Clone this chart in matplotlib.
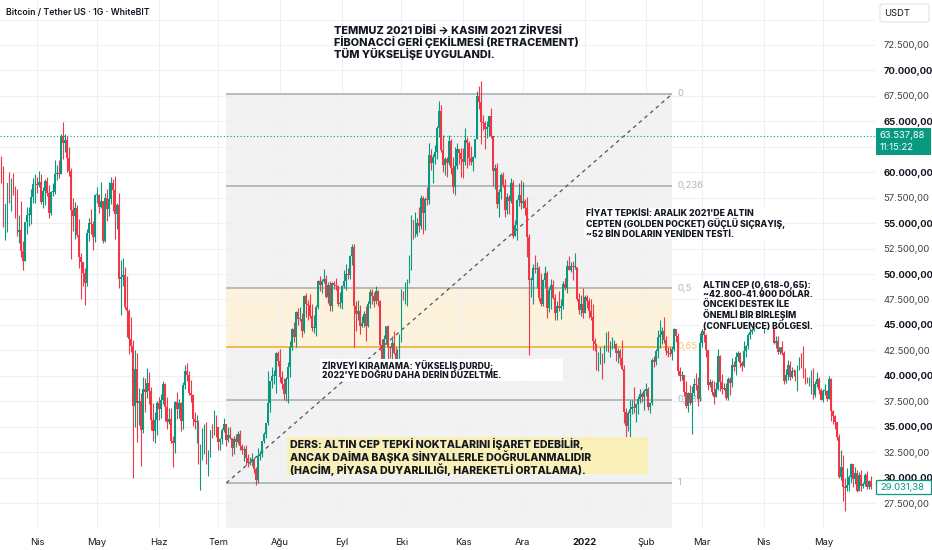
import matplotlib
matplotlib.use('Agg')
import matplotlib.pyplot as plt
import matplotlib.dates as mdates
from matplotlib.patches import Rectangle, FancyBboxPatch
from matplotlib.transforms import offset_copy
import numpy as np
import pandas as pd

plt.rcParams['font.family'] = ['Inter', 'DejaVu Sans']

#                               DATA  (BTC/USDT daily, thousands of USDT)
first_day = '2021-03-13'
first_open = 57.2
close_k = [
    61.2, 59.0, 55.6, 56.9, 58.9, 57.6, 58.3, 58.1, 57.4, 54.1, 54.3, 52.3, 51.3, 55.1, 55.8, 55.8, 57.6, 58.8, 58.8,
    58.7, 59.0, 57.1, 58.2, 59.1, 58.0, 56.0, 58.1, 58.1, 59.8, 59.9, 59.8, 63.6, 62.9, 63.2, 61.4, 60.1, 56.3, 55.7, 56.5, 53.8, 51.7, 51.2, 50.1, 49.1, 54.0, 55.0, 54.9, 53.6, 57.8,
    57.8, 56.6, 57.2, 53.2, 57.5, 56.4, 57.4, 58.9, 58.3, 55.9, 56.8, 49.5, 49.7, 49.9, 46.8, 46.4, 43.6, 42.9, 37.0, 40.7, 37.3, 37.5, 34.7, 38.7, 38.4, 39.3, 38.5, 35.7, 34.6, 35.7, 37.3,
    36.7, 37.6, 39.2, 36.9, 35.5, 35.8, 33.6, 33.4, 37.4, 36.7, 37.3, 35.6, 39.1, 40.5, 40.1, 38.3, 38.1, 35.8, 35.5, 35.6, 31.6, 32.5, 33.7, 34.7, 31.6, 32.2, 34.7, 34.5, 35.9, 35.0,
    33.5, 33.8, 34.7, 35.3, 33.7, 34.2, 33.9, 32.9, 33.8, 33.5, 34.3, 33.1, 32.7, 32.8, 31.9, 31.4, 31.5, 31.8, 30.8, 29.8, 32.1, 32.3, 33.6, 34.3, 35.4, 37.3, 39.5, 40.0, 40.0, 42.2, 41.5,
    39.9, 39.2, 38.2, 39.7, 40.9, 42.8, 44.6, 43.8, 46.3, 45.6, 45.6, 44.4, 47.8, 47.1, 47.0, 45.9, 44.7, 44.7, 46.8, 49.3, 48.9, 49.3, 49.5, 47.7, 48.9, 46.9, 49.1, 48.9, 48.8, 47.1, 47.2,
    48.8, 49.3, 50.0, 49.9, 51.8, 52.7, 46.9, 46.1, 46.4, 44.9, 45.2, 46.1, 44.9, 47.1, 48.2, 47.8, 47.3, 48.3, 47.3, 43.0, 40.7, 43.6, 44.9, 42.8, 42.7, 43.2, 42.2, 41.0, 41.5, 43.8,
    48.1, 47.7, 48.2, 49.2, 51.5, 55.3, 53.8, 53.9, 55.0, 54.7, 57.5, 56.0, 57.4, 57.3, 61.7, 60.9, 61.5, 62.0, 64.3, 66.0, 62.2, 60.7, 61.3, 60.9, 63.1, 60.4, 58.5, 60.6, 62.3, 61.9, 61.3,
    61.0, 63.2, 62.9, 61.4, 61.0, 61.5, 63.3, 67.5, 66.9, 64.9, 64.8, 64.2, 64.4, 65.5, 63.6, 60.1, 60.4, 56.9, 58.1, 59.7, 58.7, 56.3, 57.6, 57.2, 58.9, 53.7, 54.8, 57.3, 57.8, 57.0,
    57.2, 56.5, 53.6, 49.4, 49.4, 50.6, 50.5, 50.6, 47.6, 47.1, 49.4, 50.1, 46.7, 48.4, 48.9, 47.6, 46.2, 46.9, 46.7, 46.9, 49.0, 48.6, 50.8, 50.4, 50.8, 50.7, 50.7, 47.5, 46.5, 47.1, 46.2,
    47.7, 47.3, 46.4, 45.8, 43.4, 43.1, 41.5, 41.7, 41.9, 41.8, 42.7, 43.9, 42.6, 43.1, 43.1, 43.1, 42.2, 42.4, 41.7, 40.7, 36.4, 35.1, 36.3, 36.7, 36.9, 36.8, 37.2, 37.7, 38.2, 37.9, 38.5,
    38.7, 36.9, 37.3, 41.6, 41.4, 42.4, 43.8, 44.0, 44.4, 43.5, 42.4, 42.2, 42.1, 42.6, 44.6, 43.9, 40.5, 40.0, 40.1, 38.4, 37.0, 38.3, 37.3, 38.3, 39.2, 39.1, 37.7, 43.2,
    44.4, 44.0, 42.5, 39.1, 39.4, 38.4, 37.9, 38.7, 41.9, 39.4, 38.7, 38.8, 37.8, 39.7, 39.3, 41.1, 40.9, 41.8, 42.2, 41.3, 41.0, 42.4, 42.9, 44.0, 44.3, 44.5, 46.8, 47.1, 47.4, 47.1, 45.5,
    46.3, 45.8, 46.4, 46.6, 45.5, 43.2, 43.4, 42.3, 42.8, 42.2, 39.5, 40.1, 41.1, 39.9, 40.5, 40.4, 39.7, 40.8, 41.5, 41.4, 40.5, 39.7, 39.5, 39.5, 40.4, 38.1, 39.2, 39.7, 38.6, 37.6,
    38.5, 38.5, 37.7, 39.7, 36.5, 36.0, 35.5, 34.0, 30.1, 31.0, 29.1, 29.0, 29.3, 30.1, 31.3, 29.9, 30.4, 28.7, 30.3, 29.2, 29.4, 30.3, 29.1, 29.7, 29.03138,
]
high_k = [
    61.8, 61.6, 60.6, 56.9, 58.9, 60.0, 59.4, 59.9, 58.6, 58.4, 55.8, 57.2, 53.2, 55.1, 56.6, 56.6, 58.4, 59.4, 59.8,
    59.5, 60.1, 59.8, 58.5, 59.3, 59.5, 58.7, 58.2, 58.9, 61.2, 60.7, 61.2, 63.8, 64.9, 63.8, 63.6, 62.5, 60.4, 57.5, 57.1, 56.8, 55.4, 52.1, 51.2, 50.6, 54.4, 55.5, 56.4, 55.2, 57.9,
    58.5, 57.9, 59.0, 57.2, 58.0, 58.4, 59.0, 59.5, 59.3, 59.6, 57.0, 58.0, 51.4, 51.6, 50.7, 49.8, 46.6, 45.8, 43.5, 42.5, 42.2, 38.8, 38.3, 39.9, 39.8, 40.8, 40.4, 38.9, 37.3, 36.4, 37.5,
    37.9, 38.2, 39.5, 39.3, 37.9, 36.8, 36.8, 34.1, 37.5, 38.4, 37.7, 37.4, 39.4, 41.1, 41.3, 40.5, 39.6, 38.2, 36.4, 36.1, 35.7, 33.3, 34.9, 35.3, 35.5, 32.7, 34.7, 35.3, 36.6, 36.1,
    35.0, 33.9, 34.9, 35.9, 35.3, 35.0, 35.0, 33.9, 34.1, 34.3, 34.6, 34.7, 33.3, 33.1, 33.2, 32.3, 32.0, 32.4, 31.9, 31.0, 32.9, 32.6, 33.6, 34.5, 35.4, 40.5, 39.5, 40.9, 40.6, 42.3, 42.4,
    42.6, 40.5, 39.8, 39.9, 41.4, 43.4, 44.7, 45.3, 46.4, 46.7, 46.8, 46.2, 47.9, 48.1, 47.4, 48.0, 47.1, 46.0, 47.0, 49.4, 49.8, 49.5, 50.5, 49.9, 49.2, 49.3, 49.2, 49.3, 49.6, 48.9, 48.2,
    48.9, 50.4, 51.0, 50.6, 51.9, 52.9, 52.9, 47.3, 47.4, 47.0, 45.9, 46.4, 46.9, 47.3, 48.5, 48.5, 48.2, 48.8, 48.4, 47.4, 43.6, 44.0, 44.9, 45.0, 42.9, 43.9, 44.4, 42.8, 42.6, 44.1,
    48.5, 48.3, 49.2, 49.5, 51.9, 55.8, 55.3, 56.1, 55.5, 56.6, 57.8, 57.7, 57.6, 58.5, 62.9, 62.3, 61.8, 62.7, 64.5, 67.0, 66.6, 63.7, 61.5, 61.5, 63.7, 63.3, 61.5, 62.5, 62.9, 62.3, 62.4,
    62.4, 64.3, 63.5, 63.1, 62.6, 61.6, 63.3, 68.0, 68.5, 69.0, 65.6, 65.0, 65.0, 65.5, 66.3, 63.6, 60.8, 60.9, 58.4, 59.9, 60.0, 59.3, 58.0, 57.8, 59.4, 59.2, 55.3, 57.4, 58.9, 59.2,
    59.0, 57.4, 57.6, 53.9, 49.7, 51.0, 51.9, 51.2, 50.8, 50.1, 49.5, 50.8, 50.3, 48.7, 49.5, 49.4, 48.0, 47.3, 48.3, 47.5, 49.3, 49.6, 51.4, 51.8, 51.2, 51.3, 52.1, 50.7, 48.1, 47.9, 48.6,
    47.9, 47.9, 47.6, 47.5, 47.1, 43.7, 43.1, 42.3, 42.8, 42.2, 43.0, 44.3, 44.4, 43.4, 43.8, 43.5, 43.2, 42.7, 42.6, 43.5, 41.1, 36.8, 36.5, 37.6, 37.6, 38.9, 37.3, 38.0, 38.7, 38.4, 38.7,
    39.3, 38.9, 37.4, 41.7, 41.9, 42.6, 44.5, 45.5, 44.8, 45.8, 43.9, 42.8, 42.8, 42.9, 44.7, 44.6, 44.2, 40.9, 40.5, 40.1, 39.5, 38.4, 39.1, 39.0, 39.8, 40.3, 39.9, 44.2,
    44.9, 45.4, 44.1, 42.5, 39.7, 39.6, 39.5, 39.4, 42.6, 42.0, 40.2, 39.3, 39.3, 39.9, 39.9, 41.7, 41.5, 42.3, 42.4, 42.3, 41.5, 43.4, 43.0, 44.2, 45.1, 44.8, 46.9, 48.2, 48.1, 47.7, 47.6,
    46.7, 47.2, 47.4, 46.9, 47.1, 45.5, 43.9, 43.9, 42.8, 43.4, 42.4, 40.7, 41.6, 41.5, 40.9, 40.7, 40.6, 41.1, 41.8, 42.2, 42.9, 40.8, 39.9, 39.9, 40.6, 40.8, 39.5, 40.4, 39.9, 38.8,
    38.7, 39.2, 38.6, 40.0, 39.8, 36.6, 36.1, 35.5, 34.3, 32.7, 32.2, 30.0, 30.9, 30.3, 31.4, 31.3, 31.0, 30.7, 30.5, 30.7, 29.6, 30.4, 30.6, 29.8, 30.2,
]
low_k = [
    56.1, 58.9, 54.6, 53.3, 54.1, 57.0, 56.2, 57.8, 55.5, 53.7, 53.0, 51.7, 50.4, 51.3, 53.9, 54.7, 54.9, 57.0, 57.0,
    58.0, 58.5, 56.9, 56.5, 56.8, 57.7, 55.5, 55.8, 57.7, 57.9, 59.2, 59.4, 59.8, 61.3, 62.0, 60.0, 59.6, 51.5, 54.2, 53.4, 53.6, 50.6, 47.5, 48.8, 47.0, 48.8, 53.2, 53.9, 52.4, 53.1,
    57.0, 56.0, 56.5, 53.0, 53.1, 55.2, 55.7, 56.9, 56.2, 53.4, 54.4, 48.6, 46.0, 48.8, 46.6, 43.8, 42.1, 42.3, 30.0, 35.0, 33.5, 35.2, 31.1, 34.4, 36.4, 37.8, 37.2, 34.7, 33.6, 33.4, 34.2,
    35.7, 35.9, 37.2, 35.6, 34.8, 35.3, 33.4, 31.0, 32.4, 35.8, 35.9, 34.6, 34.8, 38.7, 39.5, 38.1, 37.4, 35.1, 34.8, 33.4, 31.3, 28.8, 31.7, 32.3, 31.3, 30.2, 32.0, 33.9, 34.2, 34.0,
    32.7, 32.7, 33.3, 34.5, 33.1, 33.5, 33.8, 32.1, 32.3, 33.0, 33.3, 32.7, 32.3, 31.6, 31.2, 31.0, 31.2, 31.1, 30.4, 29.3, 29.5, 31.7, 32.0, 33.4, 33.9, 35.2, 36.4, 38.8, 39.2, 38.3, 41.0,
    39.4, 38.7, 37.6, 37.5, 37.3, 39.9, 42.5, 43.3, 42.8, 45.0, 45.4, 43.8, 44.2, 45.8, 45.5, 45.7, 44.4, 44.2, 43.9, 46.6, 48.3, 48.1, 49.1, 47.6, 47.2, 46.4, 46.4, 48.5, 48.4, 46.9, 46.7,
    46.6, 48.6, 48.4, 49.5, 49.5, 50.9, 42.8, 44.4, 45.5, 44.1, 44.8, 44.8, 43.4, 44.8, 46.7, 47.1, 46.8, 47.1, 46.9, 42.5, 39.6, 40.6, 43.1, 40.8, 41.7, 40.8, 42.1, 40.9, 40.8, 41.4,
    43.3, 47.4, 47.1, 46.9, 49.1, 50.4, 53.4, 53.6, 53.7, 54.1, 54.4, 53.9, 54.3, 56.8, 56.9, 60.2, 58.9, 60.8, 61.3, 63.5, 62.0, 60.0, 59.7, 59.5, 60.7, 59.8, 58.0, 57.8, 60.3, 60.8, 59.5,
    59.4, 60.7, 60.4, 60.7, 60.7, 60.1, 61.4, 63.3, 66.2, 62.8, 64.1, 62.3, 63.4, 63.6, 63.4, 58.6, 58.4, 56.5, 55.6, 57.4, 58.5, 55.6, 55.9, 55.9, 57.0, 53.5, 53.7, 53.3, 56.7, 56.4,
    56.5, 55.8, 51.7, 42.0, 47.7, 47.1, 50.1, 48.6, 47.3, 46.9, 46.9, 48.7, 45.7, 46.3, 46.6, 47.5, 45.5, 45.5, 46.4, 45.6, 46.6, 48.4, 48.1, 50.4, 50.2, 49.4, 50.5, 47.3, 46.1, 45.9, 45.7,
    46.2, 46.7, 45.7, 45.5, 42.5, 42.4, 40.6, 40.5, 41.2, 39.7, 41.3, 42.4, 42.3, 41.8, 42.6, 42.7, 41.5, 41.3, 41.1, 40.6, 35.4, 34.0, 34.6, 32.9, 36.2, 36.3, 35.5, 36.2, 37.3, 37.4, 36.6,
    38.0, 36.6, 36.3, 37.1, 40.9, 41.1, 41.7, 42.7, 43.1, 43.2, 42.0, 41.8, 41.9, 41.6, 42.4, 43.3, 40.1, 39.5, 39.6, 38.0, 36.8, 36.4, 37.1, 34.3, 38.0, 38.6, 37.0, 37.5,
    42.8, 43.3, 41.8, 38.6, 38.9, 38.1, 37.2, 37.9, 38.6, 38.5, 38.2, 38.6, 37.6, 37.6, 38.1, 38.9, 40.5, 40.1, 41.5, 40.9, 40.5, 40.9, 41.8, 42.6, 43.6, 44.1, 44.4, 46.7, 46.9, 46.6, 45.2,
    44.2, 45.6, 45.5, 45.1, 45.4, 43.1, 42.7, 42.1, 42.1, 42.0, 39.2, 39.3, 39.6, 39.6, 39.8, 40.0, 39.5, 38.5, 40.6, 40.8, 39.8, 39.2, 39.3, 39.0, 38.2, 37.7, 37.9, 38.9, 38.2, 37.6,
    37.4, 38.1, 37.5, 37.7, 35.6, 35.3, 34.8, 33.7, 30.0, 29.8, 27.7, 26.7, 28.7, 28.7, 29.5, 29.1, 29.4, 28.6, 28.7, 28.7, 29.0, 29.2, 28.9, 28.9, 28.9,
]

# month axis
month_starts = pd.date_range('2021-04-01', '2022-05-01', freq='MS')
month_labels = ['Nis', 'May', 'Haz', 'Tem', 'Ağu', 'Eyl', 'Eki', 'Kas', 'Ara', '2022', 'Şub', 'Mar', 'Nis', 'May']
price_ticks = np.arange(27500, 75001, 2500)

# fibonacci drawing
fib_start, fib_end = '2021-07-05', '2022-02-14'
fib_low, fib_high = 29470, 67690
fib_levels = [0, 0.236, 0.5, 0.65, 0.786, 1]
fib_labels = ['0', '0,236', '0,5', '0,65', '0,786', '1']

live_price = 63537.88
live_time = '11:15:22'

UP = '#089981'
DOWN = '#f23645'
INK = '#131722'

#                               CANDLES
dates = pd.date_range(first_day, periods=len(close_k), freq='D')
x = mdates.date2num(dates)
close = np.array(close_k) * 1000
open_ = np.concatenate([[first_open * 1000], close[:-1]])
high = np.maximum(np.array(high_k) * 1000, np.maximum(open_, close))
low = np.minimum(np.array(low_k) * 1000, np.minimum(open_, close))
up = close >= open_
colors = np.where(up, UP, DOWN)

fig = plt.figure(figsize=(9.32, 5.5), dpi=100)
ax = fig.add_axes([0, 22 / 550, 875 / 932, 528 / 550])

may1 = mdates.date2num(pd.Timestamp('2021-05-01'))
ax.set_xlim(may1 - 97 / 1.99, may1 + 778 / 1.99)
ax.set_ylim(25045, 76921)

ax.vlines(x, low, high, colors=colors, lw=0.8, zorder=3)
body_h = np.maximum(np.abs(close - open_), 90)
ax.bar(x, body_h, bottom=np.minimum(open_, close), width=0.9, color=colors, lw=0, zorder=3)

# grid + axes
ax.set_axisbelow(True)
ax.set_xticks(mdates.date2num(month_starts))
ax.set_xticklabels(month_labels)
ax.set_yticks(price_ticks)


def tr_fmt(v):
    s = f'{v:,.2f}'
    return s.replace(',', 'X').replace('.', ',').replace('X', '.')


ylabels = []
for v in price_ticks:
    if v in (62500, 75000):
        ylabels.append('')
    else:
        ylabels.append(tr_fmt(v))
ax.set_yticklabels(ylabels)
ax.yaxis.tick_right()
ax.tick_params(axis='y', length=0, pad=6, labelsize=6.8)
ax.tick_params(axis='x', length=0, pad=7, labelsize=6.8, labelcolor=INK)
for v, t in zip(price_ticks, ax.get_yticklabels()):
    if v % 5000 == 0:
        t.set_fontweight('bold')
        t.set_color(INK)
    else:
        t.set_color('#3c404b')
for t in ax.get_xticklabels():
    if t.get_text() == '2022':
        t.set_fontweight('bold')
ax.grid(True, color='#eef0f4', lw=0.8)
for s in ax.spines.values():
    s.set_visible(False)

# fibonacci retracement
fs, fe = mdates.date2num(pd.Timestamp(fib_start)), mdates.date2num(pd.Timestamp(fib_end))
fib_prices = [fib_high - lv * (fib_high - fib_low) for lv in fib_levels]
ax.add_patch(Rectangle((fs, 25045), fe - fs, fib_high - 25045, fc='#f2f2f2', ec='none', zorder=0.2))
ax.add_patch(Rectangle((fs, fib_prices[3]), fe - fs, fib_prices[2] - fib_prices[3], fc='#fdf3dc', ec='none', zorder=0.3))
lab_tr = offset_copy(ax.transData, fig=fig, x=5, y=0, units='dots')
for lv, p, lab in zip(fib_levels, fib_prices, fib_labels):
    c = '#f2b53c' if lv == 0.65 else '#b2b5be'
    ax.hlines(p, fs, fe, colors=c, lw=1.3, zorder=1)
    ax.text(fe, p, lab, transform=lab_tr, ha='left', va='center', fontsize=6.8,
            color='#f6c56a' if lv == 0.65 else '#b2b5be', zorder=1)
ax.plot([fs, fe], [fib_low, fib_high], ls=(0, (3, 3)), color='#50535e', lw=0.9, zorder=1.5)

# live price line
ax.axhline(live_price, color=UP, ls=(0, (1, 2)), lw=0.8, zorder=2)


#                               NOTES
def ax_xy(px, py):
    return px / 875, (528 - py) / 528


def box(x0, y0, x1, y1, color):
    ax.add_patch(Rectangle(ax_xy(x0, y1), (x1 - x0) / 875, (y1 - y0) / 528,
                           transform=ax.transAxes, fc=color, ec='none', zorder=5))


def note(px, py, text, size, ls):
    ax.text(*ax_xy(px, py), text, transform=ax.transAxes, ha='left', va='top', fontsize=size,
            fontweight='heavy', color=INK, linespacing=ls, zorder=6)


note(334, 25, 'TEMMUZ 2021 DİBİ → KASIM 2021 ZİRVESİ\nFİBONACCİ GERİ ÇEKİLMESİ (RETRACEMENT)\nTÜM YÜKSELİŞE UYGULANDI.', 7.8, 1.03)
box(584, 208, 770, 239, 'white')
note(586, 209, "FİYAT TEPKİSİ: ARALIK 2021'DE ALTIN\nCEPTEN (GOLDEN POCKET) GÜÇLÜ SIÇRAYIŞ,\n~52 BİN DOLARIN YENİDEN TESTİ.", 6.3, 1.05)
box(700, 280, 815, 329, 'white')
note(703, 281, 'ALTIN CEP (0,618-0,65):\n~42.800-41.900 DOLAR.\nÖNCEKİ DESTEK İLE\nÖNEMLİ BİR BİRLEŞİM\n(CONFLUENCE) BÖLGESİ.', 6.3, 1.05)
box(320, 359, 563, 381, 'white')
note(322, 360, "ZİRVEYİ KIRAMAMA: YÜKSELİŞ DURDU;\n2022'YE DOĞRU DAHA DERİN DÜZELTME.", 6.2, 1.05)
box(287, 437, 648, 474, '#f8f0b6')
note(290, 438, 'DERS: ALTIN CEP TEPKİ NOKTALARINI İŞARET EDEBİLİR,\nANCAK DAİMA BAŞKA SİNYALLERLE DOĞRULANMALIDIR\n(HACİM, PİYASA DUYARLILIĞI, HAREKETLİ ORTALAMA).', 7.6, 1.0)


#                               HEADER / PRICE TAGS
def fx(px):
    return px / 932


def fy(py):
    return 1 - py / 550


fig.text(fx(6), fy(12), 'Bitcoin / Tether US · 1G · WhiteBIT', fontsize=6.3, fontweight='semibold',
         color=INK, va='center')
fig.patches.append(FancyBboxPatch((fx(880), fy(22)), fx(49), 18 / 550, boxstyle='round,pad=0,rounding_size=0.004',
                                  transform=fig.transFigure, fc='white', ec='#e0e3eb', lw=0.8))
fig.text(fx(884), fy(13), 'USDT', fontsize=6.8, color=INK, va='center')

fig.patches.append(Rectangle((fx(876), fy(155)), fx(55), 27 / 550, transform=fig.transFigure,
                             fc=UP, ec='none'))
fig.text(fx(880), fy(135), tr_fmt(live_price), fontsize=6.8, color='white', va='center')
fig.text(fx(880), fy(148), live_time, fontsize=6.8, color='white', va='center')

last_y = ax.transData.transform((0, close[-1]))[1]
fig.patches.append(Rectangle((fx(876), (last_y - 7) / 550), fx(55), 14 / 550, transform=fig.transFigure,
                             fc='white', ec=UP, lw=0.9))
fig.text(fx(880), last_y / 550, tr_fmt(close[-1]), fontsize=6.8, color=UP, va='center')

fig.savefig('out.png', dpi=100)
